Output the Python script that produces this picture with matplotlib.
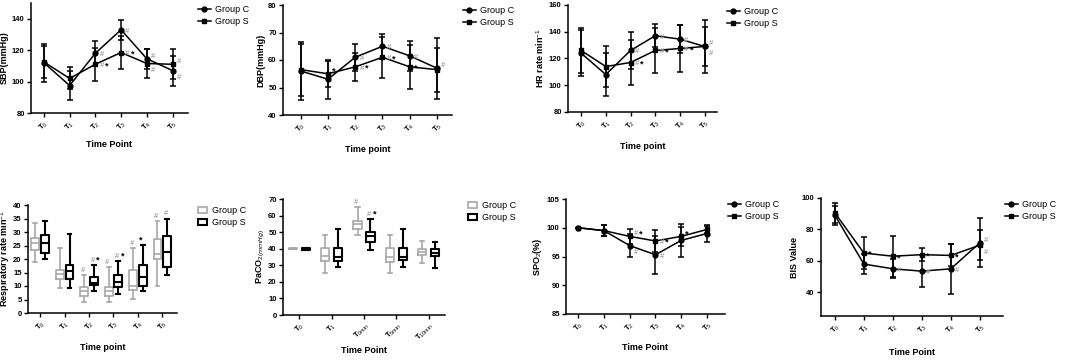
import matplotlib
matplotlib.use("Agg")
import matplotlib.pyplot as plt
from matplotlib.lines import Line2D
from matplotlib.patches import Patch

plt.rcParams['font.family'] = ['Liberation Sans', 'DejaVu Sans']
plt.rcParams['mathtext.fontset'] = 'custom'
plt.rcParams['mathtext.rm'] = 'Liberation Sans'
plt.rcParams['mathtext.bf'] = 'Liberation Sans:bold'

# ---- line panels: mean and SD, Group C (circle) / Group S (square)
times = ['0', '1', '2', '3', '4', '5']

sbp_c = [112, 97.5, 118, 133, 114.5, 107]
sbp_c_sd = [12, 9.5, 8, 6.5, 6.5, 9.5]
sbp_s = [112.5, 102, 111, 118.5, 111.5, 111]
sbp_s_sd = [10, 7, 10.5, 10.5, 9.5, 9.5]
sbp_c_mark = ['', '', '#', '#', '#', '#']
sbp_s_mark = ['', '', '#*', '#*', '#', '#']

dbp_c = [56, 53, 61, 65, 61.5, 57]
dbp_c_sd = [10.5, 7, 5, 4.5, 5.5, 11]
dbp_s = [56.5, 55, 57.5, 61, 57.5, 56.5]
dbp_s_sd = [9.5, 4.8, 5, 7.5, 8, 8]
dbp_c_mark = ['', '', '#', '#', '#', '#']
dbp_s_mark = ['', '*', '#*', '#*', '*', '']

hr_c = [124, 108, 126, 137, 134.5, 129]
hr_c_sd = [17, 16, 13.5, 8.5, 10.5, 20]
hr_s = [126, 114, 117, 126, 127.5, 129]
hr_s_sd = [17, 15, 17, 16.5, 17.5, 14.5]
hr_c_mark = ['', '', '#', '#', '#', '#']
hr_s_mark = ['', '', '#*', '#*', '#*', '#']

spo_c = [100, 99.5, 96.9, 95.3, 97.8, 99.0]
spo_c_sd = [0, 0.9, 2, 3.3, 2.8, 1.4]
spo_s = [100, 99.5, 98.5, 97.7, 98.5, 99.7]
spo_s_sd = [0, 0.9, 1.3, 1.9, 1.7, 0.6]
spo_c_mark = ['', '', '#', '#', '', '']
spo_s_mark = ['', '', '#*', '#*', '*', '']

bis_c = [89, 58, 55, 53.5, 55, 71.5]
bis_c_sd = [6, 6.5, 6, 10, 16, 15.5]
bis_s = [90.5, 65, 63, 64, 63.5, 70]
bis_s_sd = [6.3, 10, 13, 4, 7, 9.5]
bis_c_mark = ['', '', '#', '#', '#', '#']
bis_s_mark = ['', '*', '*', '*', '*', '#']

# ---- box panels: (whislo, q1, med, q3, whishi)
resp_c = [(19, 23.4, 26.1, 27.7, 33.2), (9.2, 12.5, 14.5, 16, 24.2),
          (4, 6.2, 8.2, 9.8, 13.9), (4, 6.4, 8, 9.8, 17),
          (5.3, 8.4, 10, 15.8, 24), (10, 20, 21.9, 27.4, 34)]
resp_s = [(20, 22.2, 26.1, 28.9, 34.2), (9.2, 12.5, 15.4, 17.8, 29.3),
          (8, 10.5, 11, 13.5, 17.8), (7, 9.8, 11.4, 14.2, 19.3),
          (8, 10, 13.5, 17.8, 25.2), (14.2, 17.2, 22.7, 28.7, 35)]
resp_c_mark = ['', '', '#', '#', '#', '#']
resp_s_mark = ['', '', '#*', '#*', '*', '#']

paco_times = ['0', '1', '0min', '5min', '10min']
paco_c = [(39.6, 39.6, 40, 40.4, 40.4), (25.2, 32.3, 35.7, 40.3, 48.4),
          (48.4, 51.8, 54.8, 56.5, 65), (25.2, 31.7, 35.3, 40.3, 48.4),
          (31.2, 36.3, 38.3, 39.7, 44.4)]
paco_s = [(39.4, 39.4, 40, 40.6, 40.6), (28.8, 32.7, 35.3, 40.7, 52),
          (39.3, 43.8, 47.4, 49.8, 57.9), (28.8, 33.3, 34.7, 40.3, 52),
          (28.2, 35.7, 37.7, 39.7, 43.8)]
paco_c_mark = ['', '', '#', '', '']
paco_s_mark = ['', '', '#*', '', '']

W, H = 1065, 361
fig = plt.figure(figsize=(W / 100, H / 100), dpi=100)
GRAY = '#a8a8a8'


def add_ax(l, t, r, b):
    ax = fig.add_axes([l / W, 1 - b / H, (r - l) / W, (b - t) / H])
    for s in ['top', 'right']:
        ax.spines[s].set_visible(False)
    for s in ['left', 'bottom']:
        ax.spines[s].set_linewidth(1.1)
    ax.tick_params(direction='out', length=3, width=1, labelsize=5.5, pad=1.5)
    return ax


def xlabels(ax, names, size=5.5):
    ax.set_xticks(range(len(names)))
    ax.set_xticklabels([r'$\mathbf{T}_{\mathrm{%s}}$' % n for n in names],
                       rotation=45, ha='right', rotation_mode='anchor', fontsize=size)


def mark(ax, x, y, txt, dx=3, dy=-1):
    if not txt:
        return
    off = dx
    for ch in txt:
        col = GRAY if ch == '#' else 'black'
        fs = 5.5 if ch == '#' else 6.5
        ax.annotate(ch, (x, y), xytext=(off, dy), textcoords='offset points',
                    fontsize=fs, color=col, ha='left', va='center', fontweight='bold')
        off += 4


def finish(ax, ylim, yticks, xlim, names, ylabel, xlab, ylpad, xlpad):
    ax.set_ylim(*ylim)
    ax.set_yticks(yticks)
    ax.set_xlim(*xlim)
    xlabels(ax, names)
    for lab in ax.get_yticklabels():
        lab.set_fontweight('bold')
    ax.set_ylabel(ylabel, fontsize=6.5, fontweight='bold', labelpad=ylpad)
    ax.set_xlabel(xlab, fontsize=6.5, fontweight='bold', labelpad=xlpad)


def line_panel(box, c, csd, s, ssd, cm, sm, ylim, yticks, ylabel, xlab, xlim, leg_xy,
               xlpad=7):
    ax = add_ax(*box)
    x = list(range(len(c)))
    ax.errorbar(x, c, yerr=csd, color='black', marker='o', ms=3.5, lw=1.1,
                elinewidth=1.1, capsize=2, capthick=1.1)
    ax.errorbar(x, s, yerr=ssd, color='black', marker='s', ms=3.5, lw=1.1,
                elinewidth=1.1, capsize=2, capthick=1.1)
    span = ylim[1] - ylim[0]
    for i in x:
        close = abs(c[i] - s[i]) < 0.08 * span
        dc = ds = -1
        if close:
            dc, ds = (2, -5) if c[i] >= s[i] else (-5, 2)
        mark(ax, i, c[i], cm[i], dy=dc)
        mark(ax, i, s[i], sm[i], dy=ds)
    finish(ax, ylim, yticks, xlim, times, ylabel, xlab, 2, xlpad)
    handles = [Line2D([], [], color='black', marker='o', ms=3.5, lw=1.1),
               Line2D([], [], color='black', marker='s', ms=3.5, lw=1.1)]
    ax.legend(handles, ['Group C', 'Group S'], loc='upper left',
              bbox_to_anchor=(leg_xy[0] / W, 1 - leg_xy[1] / H),
              bbox_transform=fig.transFigure, frameon=False, fontsize=6.5,
              handlelength=1.4, handletextpad=0.5, labelspacing=0.3,
              borderpad=0, borderaxespad=0)
    return ax


def box_panel(box, c, s, cm, sm, names, off, width, ylim, yticks, ylabel,
              xlab, xlim, leg_xy, xlpad):
    ax = add_ax(*box)
    for data, sign, col, lw, marks in [(c, -1, GRAY, 1.2, cm), (s, 1, 'black', 1.5, sm)]:
        stats = [dict(whislo=d[0], q1=d[1], med=d[2], q3=d[3], whishi=d[4], fliers=[])
                 for d in data]
        pos = [i + sign * off for i in range(len(data))]
        kw = dict(color=col, linewidth=lw)
        ax.bxp(stats, positions=pos, widths=width, showfliers=False,
               boxprops=kw, whiskerprops=kw, capprops=kw, medianprops=kw,
               manage_ticks=False)
        for i, d in enumerate(data):
            if marks[i]:
                mark(ax, pos[i], d[4], marks[i], dx=-2.5, dy=3.5)
    finish(ax, ylim, yticks, xlim, names, ylabel, xlab, 1, xlpad)
    handles = [Patch(facecolor='white', edgecolor=GRAY, lw=1.2),
               Patch(facecolor='white', edgecolor='black', lw=1.5)]
    ax.legend(handles, ['Group C', 'Group S'], loc='upper left',
              bbox_to_anchor=(leg_xy[0] / W, 1 - leg_xy[1] / H),
              bbox_transform=fig.transFigure, frameon=False, fontsize=6.5,
              handlelength=1.0, handleheight=0.7, handletextpad=0.6,
              labelspacing=0.35, borderpad=0, borderaxespad=0)
    return ax


line_panel((31, 3, 188, 113), sbp_c, sbp_c_sd, sbp_s, sbp_s_sd, sbp_c_mark, sbp_s_mark,
           (80, 150), [80, 100, 120, 140], 'SBP(mmHg)', 'Time Point', (-0.5, 5.6), (198, 5),
           xlpad=5)
line_panel((283, 5, 452, 115), dbp_c, dbp_c_sd, dbp_s, dbp_s_sd, dbp_c_mark, dbp_s_mark,
           (40, 80), [40, 50, 60, 70, 80], 'DBP(mmHg)', 'Time point', (-0.65, 5.55), (463, 6))
line_panel((568, 5, 717, 112), hr_c, hr_c_sd, hr_s, hr_s_sd, hr_c_mark, hr_s_mark,
           (80, 160), [80, 100, 120, 140, 160], 'HR rate min$^{-1}$', 'Time point',
           (-0.53, 5.5), (727, 7))
line_panel((566, 199, 725, 314), spo_c, spo_c_sd, spo_s, spo_s_sd, spo_c_mark, spo_s_mark,
           (85, 105), [85, 90, 95, 100, 105], 'SPO$_2$(%)', 'Time Point',
           (-0.47, 5.7), (728, 200), xlpad=6)
line_panel((821, 198, 1003, 316), bis_c, bis_c_sd, bis_s, bis_s_sd, bis_c_mark, bis_s_mark,
           (25, 100), [40, 60, 80, 100], 'BIS Value', 'Time Point',
           (-0.48, 5.8), (1005, 200), xlpad=8)

box_panel((28, 205, 177, 313), resp_c, resp_s, resp_c_mark, resp_s_mark, times,
          0.2, 0.32, (0, 40), [0, 5, 10, 15, 20, 25, 30, 35, 40],
          'Respiratory rate min$^{-1}$', 'Time point', (-0.5, 5.6), (198, 206), 7)
box_panel((283, 199, 445, 315), paco_c, paco_s, paco_c_mark, paco_s_mark, paco_times,
          0.2, 0.25, (0, 70), [0, 10, 20, 30, 40, 50, 60, 70],
          'PaCO$_{2(mmHg)}$', 'Time Point', (-0.5, 4.5), (468, 201), 2)

fig.savefig('out.png', dpi=100, facecolor='white')
